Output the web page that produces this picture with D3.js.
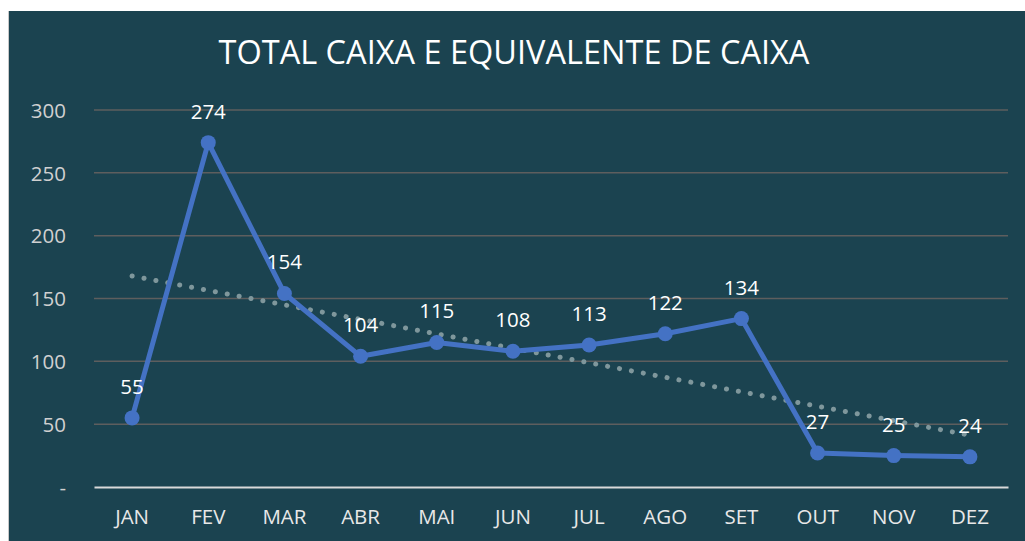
<!DOCTYPE html>
<html>
<head>
<meta charset="utf-8">
<script src="https://cdn.jsdelivr.net/npm/d3@7"></script>
<style>
  body { margin: 0; background: #fff; }
  svg text { font-family: "Open Sans", "Noto Sans", sans-serif; }
</style>
</head>
<body>
<script>
// Dados do gráfico
var meses = ["JAN", "FEV", "MAR", "ABR", "MAI", "JUN", "JUL", "AGO", "SET", "OUT", "NOV", "DEZ"];
var valores = [55, 274, 154, 104, 115, 108, 113, 122, 134, 27, 25, 24];
var ticksY = [0, 50, 100, 150, 200, 250, 300];

var W = 1025, H = 541;
var margin = {top: 110, right: 17, bottom: 54, left: 94};

var svg = d3.select("body").append("svg")
    .attr("width", W)
    .attr("height", H);

// Fundo do painel
svg.append("rect").attr("x", 8).attr("y", 11).attr("width", W - 8).attr("height", H - 11)
    .attr("fill", "#1b4350");
svg.append("line").attr("x1", 8.5).attr("x2", 8.5).attr("y1", 11).attr("y2", H)
    .attr("stroke", "#c8c8c8").attr("stroke-width", 1);

// Título
svg.append("text")
    .attr("x", 514).attr("y", 64)
    .attr("text-anchor", "middle")
    .attr("fill", "#ffffff")
    .style("font-size", "32.5px")
    .text("TOTAL CAIXA E EQUIVALENTE DE CAIXA");

var x = d3.scaleBand().domain(meses).range([margin.left, W - margin.right]);
var y = d3.scaleLinear().domain([0, 300]).range([H - margin.bottom, margin.top]);

// Linhas de grade
svg.append("g").selectAll("line")
    .data(ticksY.filter(function(d) { return d > 0; }))
    .join("line")
    .attr("x1", margin.left).attr("x2", W - margin.right)
    .attr("y1", function(d) { return y(d); }).attr("y2", function(d) { return y(d); })
    .attr("stroke", "#5e5e5e").attr("stroke-width", 1.5);

// Eixo Y
var yAxis = d3.axisLeft(y).tickValues(ticksY).tickSize(0).tickPadding(0)
    .tickFormat(function(d) { return d === 0 ? "-" : d; });
var gy = svg.append("g").attr("transform", "translate(" + (margin.left - 28) + ",0)").call(yAxis);
gy.select(".domain").remove();
gy.selectAll("text").attr("fill", "#d0d0d0").style("font-size", "20.5px").attr("dy", "0.35em");

// Eixo X
var xAxis = d3.axisBottom(x).tickSize(0).tickPadding(22);
var gx = svg.append("g").attr("transform", "translate(0," + y(0) + ")").call(xAxis);
gx.select(".domain").attr("stroke", "#d9d9d9").attr("stroke-width", 2);
gx.selectAll("text").attr("fill", "#e8e8e8").style("font-size", "20.5px");

// Linha de tendência (regressão linear)
var n = valores.length;
var xs = d3.range(1, n + 1);
var mx = d3.mean(xs), my = d3.mean(valores);
var sxy = d3.sum(xs, function(v, i) { return (v - mx) * (valores[i] - my); });
var sxx = d3.sum(xs, function(v) { return (v - mx) * (v - mx); });
var b = sxy / sxx, a = my - b * mx;
var cx = function(m) { return x(m) + x.bandwidth() / 2; };

svg.append("line")
    .attr("x1", cx(meses[0])).attr("y1", y(a + b * 1))
    .attr("x2", cx(meses[n - 1])).attr("y2", y(a + b * n))
    .attr("stroke", "#7f979c").attr("stroke-width", 5)
    .attr("stroke-linecap", "round").attr("stroke-dasharray", "0.1 12");

// Linha principal
var linha = d3.line()
    .x(function(d, i) { return cx(meses[i]); })
    .y(function(d) { return y(d); });

svg.append("path")
    .datum(valores)
    .attr("d", linha)
    .attr("fill", "none")
    .attr("stroke", "#4472c4")
    .attr("stroke-width", 5)
    .attr("stroke-linejoin", "round");

svg.append("g").selectAll("circle")
    .data(valores)
    .join("circle")
    .attr("cx", function(d, i) { return cx(meses[i]); })
    .attr("cy", function(d) { return y(d); })
    .attr("r", 7.5)
    .attr("fill", "#4472c4");

// Rótulos de dados
svg.append("g").selectAll("text")
    .data(valores)
    .join("text")
    .attr("x", function(d, i) { return cx(meses[i]); })
    .attr("y", function(d) { return y(d) - 24; })
    .attr("text-anchor", "middle")
    .attr("fill", "#ffffff")
    .style("font-size", "20.5px")
    .text(function(d) { return d; });
</script>
</body>
</html>
